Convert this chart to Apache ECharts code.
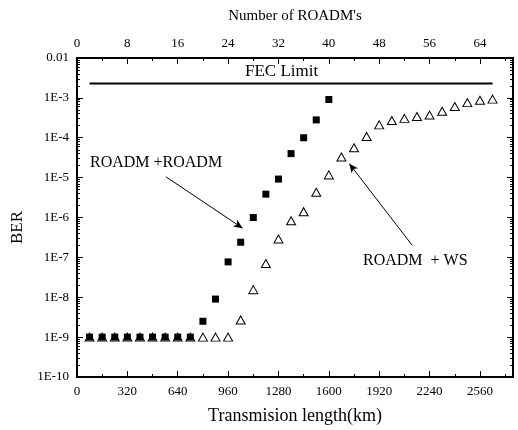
<!DOCTYPE html>
<html>
<head>
<meta charset="utf-8">
<script src="https://cdn.jsdelivr.net/npm/echarts@6/dist/echarts.min.js"></script>
<style>
  html, body { margin: 0; padding: 0; background: #fff; }
  #chart { width: 518px; height: 430px; }
</style>
</head>
<body>
<div id="chart"></div>
<script>
// ROADM + ROADM (filled squares), distance in km
const roadmKm = [80, 160, 240, 320, 400, 480, 560, 640, 720, 800, 880, 960, 1040, 1120, 1200, 1280, 1360, 1440, 1520, 1600]
const roadmBer = [1e-9, 1e-9, 1e-9, 1e-9, 1e-9, 1e-9, 1e-9, 1e-9, 1e-9, 2.5e-9, 9e-9, 7.7e-8, 2.4e-7, 1e-6, 3.85e-6, 9.2e-6, 4e-5, 1e-4, 2.8e-4, 9.1e-4]

// ROADM + WS (open triangles)
const wsKm = [80, 160, 240, 320, 400, 480, 560, 640, 720, 800, 880, 960, 1040, 1120, 1200, 1280, 1360, 1440, 1520, 1600, 1680,
  1760, 1840, 1920, 2000, 2080, 2160, 2240, 2320, 2400, 2480, 2560, 2640]
const wsBer = [1e-9, 1e-9, 1e-9, 1e-9, 1e-9, 1e-9, 1e-9, 1e-9, 1e-9, 1e-9, 1e-9, 1e-9, 2.7e-9, 1.55e-8, 7e-8, 2.9e-7, 8.3e-7, 1.4e-6, 4.3e-6, 1.17e-5, 3.3e-5,
  5.6e-5, 1.08e-4, 2.1e-4, 2.7e-4, 3.06e-4, 3.4e-4, 3.7e-4, 4.6e-4, 6.1e-4, 7.6e-4, 8.7e-4, 9.3e-4]

// FEC limit line
const fecKm = [80, 2640]
const fecBer = [2.3e-3, 2.3e-3]

const kmMax = 2770
const kmPerRoadm = 40
const kmTicks = 320
const roadmTicks = 8

// log minor ticks 2..9 x 10^k
const minorBer = []
for (let e = -10; e < -2; e++) {
  for (let m = 2; m <= 9; m++) minorBer.push(m * Math.pow(10, e))
}

const font = 'Liberation Serif'

const chart = echarts.init(document.getElementById('chart'))

function yAxisCommon(pos, show, ticks) {
  return {
    type: 'log',
    position: pos,
    min: 1e-10,
    max: 0.01,
    logBase: 10,
    interval: 1,
    axisLine: { show: true, onZero: false, lineStyle: { color: '#000', width: 2 } },
    splitLine: { show: false },
    axisTick: ticks,
    axisLabel: {
      show: show,
      fontFamily: font,
      fontSize: 13,
      color: '#000',
      margin: 8,
      formatter: v => {
        const e = Math.round(Math.log10(v))
        return e === -2 ? '0.01' : '1E' + e
      }
    }
  }
}

chart.setOption({
  animation: false,
  grid: { left: 77, right: 5, top: 58, bottom: 48 },
  xAxis: [{
    type: 'value',
    position: 'bottom',
    min: 0,
    max: kmMax,
    interval: kmTicks,
    name: 'Transmision length(km)',
    nameLocation: 'middle',
    nameGap: 30,
    nameTextStyle: { fontFamily: font, fontSize: 18, color: '#000' },
    axisLine: { onZero: false, lineStyle: { color: '#000', width: 2 } },
    axisTick: { inside: true, length: 6, lineStyle: { color: '#000', width: 1 } },
    minorTick: { show: true, splitNumber: 2, length: 3, lineStyle: { color: '#000', width: 1 } },
    splitLine: { show: false },
    axisLabel: {
      fontFamily: font, fontSize: 13, color: '#000', margin: 8,
      formatter: v => (v % kmTicks === 0 ? String(v) : '')
    }
  }, {
    type: 'value',
    position: 'top',
    min: 0,
    max: kmMax / kmPerRoadm,
    interval: roadmTicks,
    name: "Number of ROADM's",
    nameLocation: 'middle',
    nameGap: 34,
    nameTextStyle: { fontFamily: font, fontSize: 15, color: '#000' },
    axisLine: { onZero: false, lineStyle: { color: '#000', width: 2 } },
    axisTick: { inside: true, length: 6, lineStyle: { color: '#000', width: 1 } },
    minorTick: { show: true, splitNumber: 2, length: 3, lineStyle: { color: '#000', width: 1 } },
    splitLine: { show: false },
    axisLabel: {
      fontFamily: font, fontSize: 13, color: '#000', margin: 8,
      formatter: v => (v % roadmTicks === 0 ? String(v) : '')
    }
  }],
  yAxis: [
    Object.assign(yAxisCommon('left', true, { inside: true, length: 6, lineStyle: { color: '#000' } }), {
      name: 'BER',
      nameLocation: 'middle',
      nameGap: 48,
      nameRotate: 90,
      nameTextStyle: { fontFamily: font, fontSize: 17, color: '#000', padding: [0, 20, 0, 0] }
    }),
    yAxisCommon('left', false, { inside: true, length: 3, customValues: minorBer, lineStyle: { color: '#000' } }),
    yAxisCommon('right', false, { inside: true, length: 6, lineStyle: { color: '#000' } }),
    yAxisCommon('right', false, { inside: true, length: 3, customValues: minorBer, lineStyle: { color: '#000' } })
  ],
  series: [{
    name: 'ROADM +ROADM',
    type: 'scatter',
    symbol: 'rect',
    symbolSize: 7,
    itemStyle: { color: '#000', opacity: 1 },
    data: roadmKm.map((x, i) => [x, roadmBer[i]]),
    markLine: {
      silent: true,
      symbol: ['none', 'arrow'],
      symbolSize: [6, 9],
      label: { show: false },
      lineStyle: { color: '#000', width: 1, type: 'solid', opacity: 1 },
      data: [
        [{ coord: [565, 1.05e-5] }, { coord: [1052, 5.4e-7] }],
        [{ coord: [2130, 2.0e-7] }, { coord: [1730, 2.24e-5] }]
      ]
    }
  }, {
    name: 'ROADM + WS',
    type: 'scatter',
    symbol: 'triangle',
    symbolSize: [9, 8],
    itemStyle: { color: 'rgba(0,0,0,0)', borderColor: '#000', borderWidth: 1, opacity: 1 },
    data: wsKm.map((x, i) => [x, wsBer[i]])
  }, {
    name: 'FEC Limit',
    type: 'line',
    symbol: 'none',
    lineStyle: { color: '#000', width: 2 },
    data: fecKm.map((x, i) => [x, fecBer[i]])
  }],
  graphic: [
    { type: 'text', left: 285 - 40, top: 63, style: { text: 'FEC Limit', font: '17px "Liberation Serif"', fill: '#000' } },
    { type: 'text', left: 90, top: 155, style: { text: 'ROADM +ROADM', font: '16px "Liberation Serif"', fill: '#000' } },
    { type: 'text', left: 363, top: 253, style: { text: 'ROADM  + WS', font: '16px "Liberation Serif"', fill: '#000' } }
  ]
})
</script>
</body>
</html>
